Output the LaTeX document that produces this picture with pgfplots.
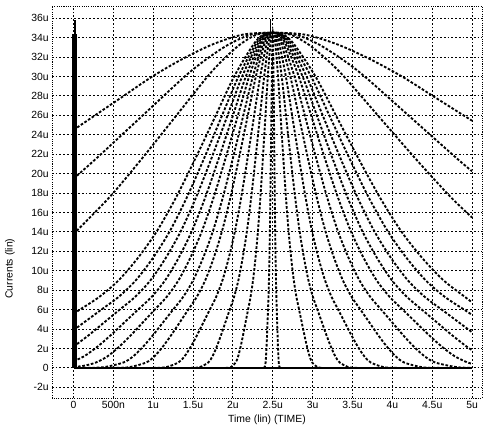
\documentclass[border=0pt]{standalone}
\usepackage{pgfplots}
\pgfplotsset{compat=1.18}
\usepackage{fontspec}
\setmainfont{Liberation Sans}
\begin{document}
\begin{tikzpicture}
\begin{axis}[
  scale only axis, width=322.5pt, height=294pt,
  xmin=-0.27, xmax=5.125, ymin=-3.1, ymax=37.25,
  xtick={0,0.5,1,1.5,2,2.5,3,3.5,4,4.5,5},
  xticklabels={0,500n,1u,1.5u,2u,2.5u,3u,3.5u,4u,4.5u,5u},
  ytick={-2,0,2,4,6,8,10,12,14,16,18,20,22,24,26,28,30,32,34,36},
  yticklabels={-2u,0,2u,4u,6u,8u,10u,12u,14u,16u,18u,20u,22u,24u,26u,28u,30u,32u,34u,36u},
  grid=major,
  major grid style={black, line width=0.75pt, dash pattern=on 1.3pt off 1.5pt},
  tick style={draw=none},
  axis line style={black, line width=0.6pt, dash pattern=on 0.8pt off 0.9pt},
  ticklabel style={font=\fontsize{7.8}{9}\selectfont},
  xticklabel style={yshift=1pt},
  yticklabel style={xshift=1pt},
  xlabel={Time (lin) (TIME)}, ylabel={Currents (lin)},
  label style={font=\fontsize{7.8}{9}\selectfont},
  xlabel style={yshift=2pt},
  ylabel style={at={(ticklabel cs:0.33)}, yshift=5.5pt},
  cv/.style={black, line width=1.4pt, dash pattern=on 2pt off 1.3pt, smooth, tension=0.5},
]
\coordinate (bl) at (rel axis cs:0,0);
\coordinate (tr) at (rel axis cs:1,1);
% inner bundle
\addplot[cv] coordinates {(2.386,0)(2.398,0.07)(2.41,0.55)(2.422,2.2)(2.434,4.7)(2.446,7.3)(2.458,11.3)(2.47,17.6)(2.482,25.8)(2.494,33.3)(2.5,34.5)(2.505,33.3)(2.515,25.8)(2.525,17.6)(2.535,11.3)(2.545,7.3)(2.555,4.7)(2.565,2.2)(2.575,0.55)(2.585,0.07)(2.595,0)};
\addplot[cv] coordinates {(1.911,0)(1.973,0.07)(2.035,0.55)(2.066,1.2)(2.097,2.2)(2.128,3.4)(2.159,4.7)(2.19,6.0)(2.221,7.3)(2.252,9.0)(2.283,11.3)(2.314,14.1)(2.345,17.6)(2.376,21.6)(2.407,25.8)(2.438,30.0)(2.469,33.3)(2.4845,34.3)(2.5,34.5)(2.5165,34.3)(2.533,33.3)(2.566,30.0)(2.599,25.8)(2.632,21.6)(2.665,17.6)(2.698,14.1)(2.731,11.3)(2.764,9.0)(2.797,7.3)(2.83,6.0)(2.863,4.7)(2.896,3.4)(2.929,2.2)(2.962,1.2)(2.995,0.55)(3.061,0.07)(3.127,0)};
\addplot[cv] coordinates {(1.474,0)(1.582,0.07)(1.69,0.55)(1.744,1.2)(1.798,2.2)(1.852,3.4)(1.906,4.7)(1.96,6.0)(2.014,7.3)(2.068,9.0)(2.122,11.3)(2.176,14.1)(2.23,17.6)(2.284,21.6)(2.338,25.8)(2.392,30.0)(2.446,33.3)(2.473,34.3)(2.5,34.5)(2.528,34.3)(2.556,33.3)(2.612,30.0)(2.668,25.8)(2.724,21.6)(2.78,17.6)(2.836,14.1)(2.892,11.3)(2.948,9.0)(3.004,7.3)(3.06,6.0)(3.116,4.7)(3.172,3.4)(3.228,2.2)(3.284,1.2)(3.34,0.55)(3.452,0.07)(3.564,0)};
\addplot[cv] coordinates {(0.999,0)(1.157,0.07)(1.315,0.55)(1.394,1.2)(1.473,2.2)(1.552,3.4)(1.631,4.7)(1.71,6.0)(1.789,7.3)(1.868,9.0)(1.947,11.3)(2.026,14.1)(2.105,17.6)(2.184,21.6)(2.263,25.8)(2.342,30.0)(2.421,33.3)(2.4605,34.3)(2.5,34.5)(2.541,34.3)(2.582,33.3)(2.664,30.0)(2.746,25.8)(2.828,21.6)(2.91,17.6)(2.992,14.1)(3.074,11.3)(3.156,9.0)(3.238,7.3)(3.32,6.0)(3.402,4.7)(3.484,3.4)(3.566,2.2)(3.648,1.2)(3.73,0.55)(3.894,0.07)(4.058,0)};
\addplot[cv] coordinates {(0.486,0)(0.698,0.07)(0.91,0.55)(1.016,1.2)(1.122,2.2)(1.228,3.4)(1.334,4.7)(1.44,6.0)(1.546,7.3)(1.652,9.0)(1.758,11.3)(1.864,14.1)(1.97,17.6)(2.076,21.6)(2.182,25.8)(2.288,30.0)(2.394,33.3)(2.447,34.3)(2.5,34.5)(2.555,34.3)(2.61,33.3)(2.72,30.0)(2.83,25.8)(2.94,21.6)(3.05,17.6)(3.16,14.1)(3.27,11.3)(3.38,9.0)(3.49,7.3)(3.6,6.0)(3.71,4.7)(3.82,3.4)(3.93,2.2)(4.04,1.2)(4.15,0.55)(4.37,0.07)(4.59,0)};
\addplot[cv] coordinates {(0.125,0)(0.375,0.07)(0.625,0.55)(0.75,1.2)(0.875,2.2)(1.0,3.4)(1.125,4.7)(1.25,6.0)(1.375,7.3)(1.5,9.0)(1.625,11.3)(1.75,14.1)(1.875,17.6)(2.0,21.6)(2.125,25.8)(2.25,30.0)(2.375,33.3)(2.4375,34.3)(2.5,34.5)(2.568,34.3)(2.636,33.3)(2.772,30.0)(2.908,25.8)(3.044,21.6)(3.18,17.6)(3.316,14.1)(3.452,11.3)(3.588,9.0)(3.724,7.3)(3.86,6.0)(3.996,4.7)(4.132,3.4)(4.268,2.2)(4.404,1.2)(4.54,0.55)(4.812,0.07)(5,0.01)};
\addplot[cv] coordinates {(0,0.09)(0.132,0.22)(0.28,0.55)(0.428,1.2)(0.576,2.2)(0.724,3.4)(0.872,4.7)(1.02,6.0)(1.168,7.3)(1.316,9.0)(1.464,11.3)(1.612,14.1)(1.76,17.6)(1.908,21.6)(2.056,25.8)(2.204,30.0)(2.352,33.3)(2.426,34.3)(2.5,34.5)(2.5815,34.3)(2.663,33.3)(2.826,30.0)(2.989,25.8)(3.152,21.6)(3.315,17.6)(3.478,14.1)(3.641,11.3)(3.804,9.0)(3.967,7.3)(4.13,6.0)(4.293,4.7)(4.456,3.4)(4.619,2.2)(4.782,1.2)(4.945,0.55)(5,0.44)};
\addplot[cv] coordinates {(0,0.69)(0.134,1.2)(0.303,2.2)(0.472,3.4)(0.641,4.7)(0.81,6.0)(0.979,7.3)(1.148,9.0)(1.317,11.3)(1.486,14.1)(1.655,17.6)(1.824,21.6)(1.993,25.8)(2.162,30.0)(2.331,33.3)(2.4155,34.3)(2.5,34.5)(2.5935,34.3)(2.687,33.3)(2.874,30.0)(3.061,25.8)(3.248,21.6)(3.435,17.6)(3.622,14.1)(3.809,11.3)(3.996,9.0)(4.183,7.3)(4.37,6.0)(4.557,4.7)(4.744,3.4)(4.931,2.2)(5,1.83)};
\addplot[cv] coordinates {(0,2.18)(0.196,3.4)(0.388,4.7)(0.58,6.0)(0.772,7.3)(0.964,9.0)(1.156,11.3)(1.348,14.1)(1.54,17.6)(1.732,21.6)(1.924,25.8)(2.116,30.0)(2.308,33.3)(2.404,34.3)(2.5,34.5)(2.606,34.3)(2.712,33.3)(2.924,30.0)(3.136,25.8)(3.348,21.6)(3.56,17.6)(3.772,14.1)(3.984,11.3)(4.196,9.0)(4.408,7.3)(4.62,6.0)(4.832,4.7)(5,3.67)};
\addplot[cv] coordinates {(0,3.88)(0.135,4.7)(0.35,6.0)(0.565,7.3)(0.78,9.0)(0.995,11.3)(1.21,14.1)(1.425,17.6)(1.64,21.6)(1.855,25.8)(2.07,30.0)(2.285,33.3)(2.3925,34.3)(2.5,34.5)(2.62,34.3)(2.74,33.3)(2.98,30.0)(3.22,25.8)(3.46,21.6)(3.7,17.6)(3.94,14.1)(4.18,11.3)(4.42,9.0)(4.66,7.3)(4.9,6.0)(5,5.46)};
\addplot[cv] coordinates {(0,5.57)(0.08,6.0)(0.322,7.3)(0.564,9.0)(0.806,11.3)(1.048,14.1)(1.29,17.6)(1.532,21.6)(1.774,25.8)(2.016,30.0)(2.258,33.3)(2.379,34.3)(2.5,34.5)(2.634,34.3)(2.768,33.3)(3.036,30.0)(3.304,25.8)(3.572,21.6)(3.84,17.6)(4.108,14.1)(4.376,11.3)(4.644,9.0)(4.912,7.3)(5,6.74)};
% outer curves
\addplot[cv] coordinates {(0,13.79)(0.455,17.6)(0.864,21.6)(1.273,25.8)(1.682,30.0)(1.8865,31.8)(2.091,33.3)(2.2955,34.3)(2.5,34.5)(2.723,34.3)(2.946,33.3)(3.169,31.8)(3.392,30.0)(3.838,25.8)(4.284,21.6)(4.73,17.6)(5,15.48)};
\addplot[cv] coordinates {(0,19.48)(0.292,21.6)(0.844,25.8)(1.396,30.0)(1.672,31.8)(1.948,33.3)(2.224,34.3)(2.5,34.5)(2.788,34.3)(3.076,33.3)(3.364,31.8)(3.652,30.0)(4.228,25.8)(4.804,21.6)(5,20.24)};
\addplot[cv] coordinates {(0,24.49)(0.235,25.8)(0.6125,27.9)(0.99,30.0)(1.3675,31.8)(1.745,33.3)(2.1225,34.3)(2.5,34.5)(2.905,34.3)(3.31,33.3)(3.715,31.8)(4.12,30.0)(4.525,27.9)(5,25.44)};
% spikes and baseline
\addplot[black, solid, sharp plot, line width=0.6pt] coordinates {(2.47,34.5)(2.47,35.9)};
\addplot[black, solid, sharp plot, line width=2pt] coordinates {(0,0)(5,0)};
\addplot[black, solid, sharp plot, line width=3.4pt] coordinates {(0.015,0)(0.015,34.4)};
\addplot[black, solid, sharp plot, line width=1.5pt] coordinates {(0.015,0)(0.015,35.8)};
\end{axis}
\pgfresetboundingbox
\path[use as bounding box] ([shift={(-39pt,-25.5pt)}]bl) rectangle ([shift={(0.75pt,4.5pt)}]tr);
\end{tikzpicture}
\end{document}
